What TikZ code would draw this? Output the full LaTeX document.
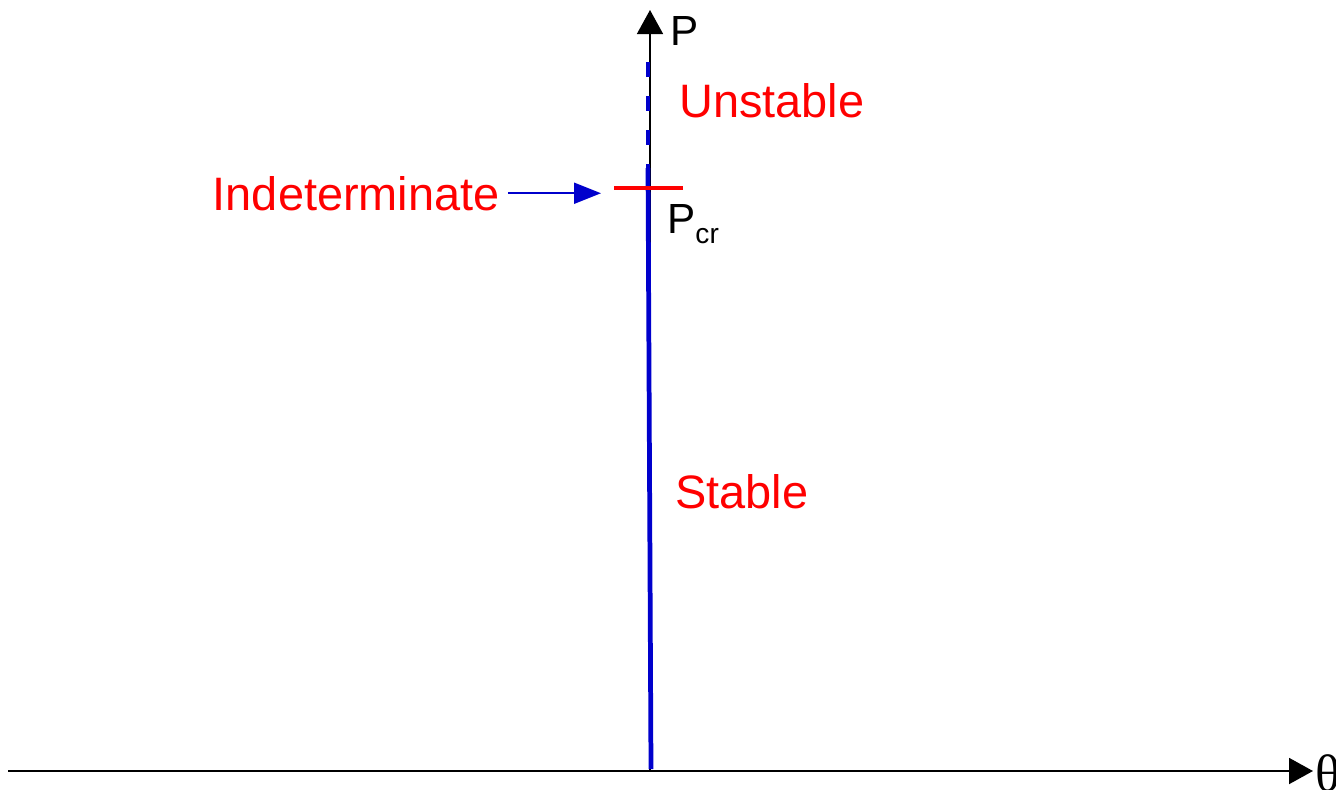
\documentclass[tikz,border=0pt]{standalone}
\usepackage{fontspec}
\setmainfont{Liberation Sans}
\newfontfamily\thetafont{Liberation Serif}
\usetikzlibrary{arrows.meta, positioning, calc}
\definecolor{plotblue}{RGB}{0,0,204}
\definecolor{plotred}{RGB}{255,0,0}

\begin{document}
\begin{tikzpicture}[x=0.02cm, y=-0.02cm,
  axis/.style={draw=black, line width=1.1pt, -{Triangle[length=4.8mm, width=5.2mm]}},
  path/.style={draw=plotblue, line width=2.7pt},
  ptr/.style={draw=plotblue, line width=1.1pt, -{Triangle[length=5.4mm, width=4.2mm]}},
  lbl/.style={text=plotred, font=\fontsize{26.7}{32}\selectfont, inner sep=0pt},
  ax/.style={text=black, font=\fontsize{24}{28}\selectfont, inner sep=0pt}]
  \useasboundingbox (0,0) rectangle (1336,789);
  % axes
  \coordinate (o) at (650,771);
  \coordinate (xl) at (8,771);
  \coordinate (xr) at (1313,771);
  \coordinate (pt) at (650,10);
  \draw[axis] (xl) -- (xr);
  \draw[axis, line width=0.85pt] (o) -- (pt);
  % equilibrium path
  \coordinate (ob) at (651,769);
  \coordinate (cr) at (648,168);
  \coordinate (ut) at (648,62);
  \draw[path] (ob) -- (cr);
  \draw[path, dash pattern=on 0.3cm off 0.38cm] (ut) -- (cr);
  \coordinate (rl) at (614,188);
  \coordinate (rr) at (683,188);
  \draw[draw=plotred, line width=1.8pt] (rl) -- (rr);
  % labels
  \node[ax, anchor=base west] (p) at (670,45) {P};
  \node[ax, anchor=base west] (pcr) at (667,233) {P\raisebox{-6pt}{\fontsize{16}{18}\selectfont cr}};
  \node[ax, anchor=west, font=\thetafont\fontsize{30}{34}\selectfont] (th) at (1315,773) {θ};
  \node[lbl, anchor=base west] (un) at (679,117) {Unstable};
  \node[lbl, anchor=base west] (st) at (675,508) {Stable};
  \node[lbl, anchor=base east] (ind) at (500,210) {Indeterminate};
  \coordinate (tip) at (601,191);
  \draw[ptr, shorten <=4.5pt] (ind.east) -- (ind.east -| tip);
\end{tikzpicture}
\end{document}
